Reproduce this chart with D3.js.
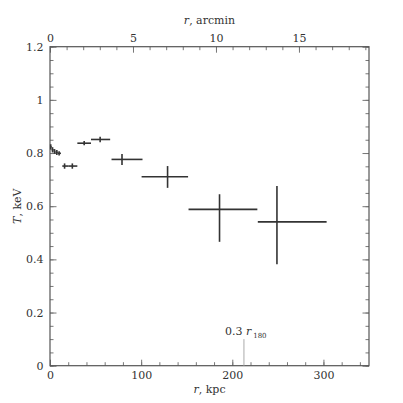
<!DOCTYPE html>
<html>
<head>
<meta charset="utf-8">
<script src="https://cdn.jsdelivr.net/npm/d3@7"></script>
<style>
  body { margin: 0; background: #fff; }
  text { font-family: "DejaVu Serif", serif; fill: #333; }
</style>
</head>
<body>
<div class="chart"></div>
<script>
var svgWidth = 403;
var svgHeight = 403;

var margin = { top: 46.7, right: 34, bottom: 37.3, left: 50 };

var width = svgWidth - margin.left - margin.right;
var height = svgHeight - margin.top - margin.bottom;

// temperature profile, r in kpc with bin edges, T in keV with errors
var rKpc = [0.8, 2.8, 5, 7.5, 10, 16, 24.5, 37.5, 55, 79, 129, 186, 249];
var rLo  = [0, 1.8, 4, 6, 8.5, 13.5, 20, 30, 45, 67.5, 100.5, 152, 228];
var rHi  = [1.8, 4, 6, 8.5, 12, 20, 30, 45, 66, 101.5, 151.5, 227.5, 303.5];
var temp = [0.823, 0.812, 0.806, 0.802, 0.799, 0.751, 0.751, 0.837, 0.851, 0.776, 0.711, 0.588, 0.541];
var tLo  = [0.813, 0.802, 0.797, 0.793, 0.791, 0.741, 0.741, 0.829, 0.841, 0.755, 0.669, 0.466, 0.382];
var tHi  = [0.833, 0.822, 0.815, 0.811, 0.807, 0.761, 0.761, 0.845, 0.861, 0.796, 0.751, 0.645, 0.676];

var yTicks = [0, 0.2, 0.4, 0.6, 0.8, 1, 1.2];
var xTicks = [0, 100, 200, 300];
var arcTicks = [0, 5, 10, 15];
var r180mark = 212.8; // 0.3 r180 in kpc
var kpcPerArcmin = 18.21;

var svg = d3.select(".chart")
  .append("svg")
  .attr("width", svgWidth)
  .attr("height", svgHeight);

var g = svg.append("g")
  .attr("transform", "translate(" + margin.left + "," + margin.top + ")");

var x = d3.scaleLinear().domain([0, 350]).range([0, width]);
var xArc = d3.scaleLinear().domain([0, 350 / kpcPerArcmin]).range([0, width]);
var y = d3.scaleLinear().domain([0, 1.2]).range([height, 0]);

var fmt = function(d) { return d3.format("~g")(d); };

// bottom axis (kpc), ticks inward
g.append("g")
  .attr("transform", "translate(0," + height + ")")
  .call(d3.axisBottom(x).tickValues(d3.range(0, 351, 20)).tickSize(-3.5).tickFormat(""))
  .call(function(a) { a.select(".domain").remove(); });
g.append("g")
  .attr("transform", "translate(0," + height + ")")
  .call(d3.axisBottom(x).tickValues(xTicks).tickSize(-6).tickPadding(6).tickFormat(fmt))
  .call(function(a) { a.select(".domain").remove(); });

// top axis (arcmin)
g.append("g")
  .call(d3.axisTop(xArc).tickValues(d3.range(0, 20, 1)).tickSize(-3.5).tickFormat(""))
  .call(function(a) { a.select(".domain").remove(); });
g.append("g")
  .call(d3.axisTop(xArc).tickValues(arcTicks).tickSize(-6).tickPadding(5).tickFormat(fmt))
  .call(function(a) { a.select(".domain").remove(); });

// left axis
g.append("g")
  .call(d3.axisLeft(y).tickValues(d3.range(0, 1.201, 0.05)).tickSize(-3.5).tickFormat(""))
  .call(function(a) { a.select(".domain").remove(); });
g.append("g")
  .call(d3.axisLeft(y).tickValues(yTicks).tickSize(-6.5).tickPadding(6.5).tickFormat(fmt))
  .call(function(a) { a.select(".domain").remove(); });

// right axis, mirrored
g.append("g")
  .attr("transform", "translate(" + width + ",0)")
  .call(d3.axisRight(y).tickValues(d3.range(0, 1.201, 0.05)).tickSize(-3.5).tickFormat(""))
  .call(function(a) { a.select(".domain").remove(); });
g.append("g")
  .attr("transform", "translate(" + width + ",0)")
  .call(d3.axisRight(y).tickValues(yTicks).tickSize(-6.5).tickFormat(""))
  .call(function(a) { a.select(".domain").remove(); });

g.selectAll(".tick line").attr("stroke", "#777").attr("stroke-width", 1);
g.selectAll(".tick text").attr("font-size", 11).attr("font-family", "DejaVu Serif").attr("fill", "#333");

// frame
g.append("rect")
  .attr("width", width)
  .attr("height", height)
  .attr("fill", "none")
  .attr("stroke", "#555")
  .attr("stroke-width", 1.2);

// 0.3 r180 marker
g.append("line")
  .attr("x1", x(r180mark)).attr("x2", x(r180mark))
  .attr("y1", y(0)).attr("y2", y(0.1))
  .attr("stroke", "#aaa")
  .attr("stroke-width", 1);
var lab = g.append("text")
  .attr("x", x(r180mark) - 19)
  .attr("y", y(0.115))
  .attr("font-size", 11);
lab.append("tspan").text("0.3 ");
lab.append("tspan").attr("font-style", "italic").text("r");
lab.append("tspan").attr("font-size", 7).attr("dx", 2).attr("dy", 3).text("180");

// error bars
var pts = d3.range(rKpc.length);
g.selectAll(".xerr").data(pts).enter().append("line")
  .attr("x1", function(i) { return x(rLo[i]); })
  .attr("x2", function(i) { return x(rHi[i]); })
  .attr("y1", function(i) { return y(temp[i]); })
  .attr("y2", function(i) { return y(temp[i]); })
  .attr("stroke", "#333").attr("stroke-width", 1.6);
g.selectAll(".yerr").data(pts).enter().append("line")
  .attr("x1", function(i) { return x(rKpc[i]); })
  .attr("x2", function(i) { return x(rKpc[i]); })
  .attr("y1", function(i) { return y(tLo[i]); })
  .attr("y2", function(i) { return y(tHi[i]); })
  .attr("stroke", "#333").attr("stroke-width", 1.6);

// axis titles
var xt = svg.append("text")
  .attr("x", margin.left + width / 2)
  .attr("y", 393)
  .attr("text-anchor", "middle")
  .attr("font-size", 11);
xt.append("tspan").attr("font-style", "italic").text("r");
xt.append("tspan").text(", kpc");

var tt = svg.append("text")
  .attr("x", margin.left + width / 2)
  .attr("y", 24)
  .attr("text-anchor", "middle")
  .attr("font-size", 11);
tt.append("tspan").attr("font-style", "italic").text("r");
tt.append("tspan").text(", arcmin");

var yt = svg.append("text")
  .attr("transform", "translate(21," + (margin.top + height / 2) + ") rotate(-90)")
  .attr("text-anchor", "middle")
  .attr("font-size", 11);
yt.append("tspan").attr("font-style", "italic").text("T");
yt.append("tspan").text(", keV");
</script>
</body>
</html>
